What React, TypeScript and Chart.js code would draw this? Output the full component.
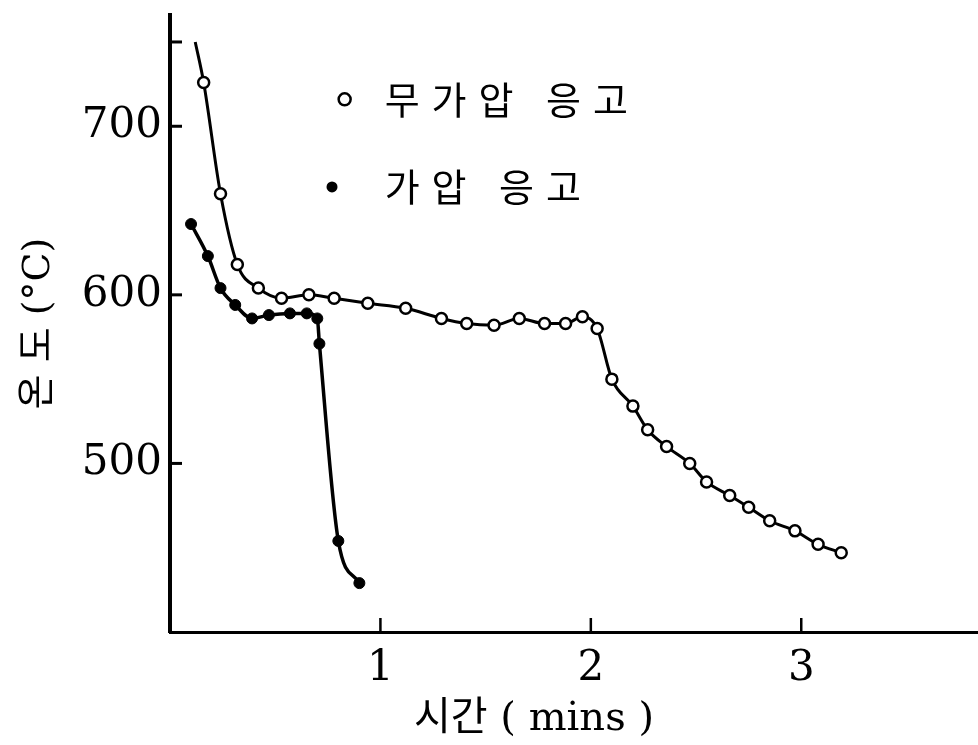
import React, { useEffect, useRef } from 'react';
import { Chart, registerables } from 'chart.js';

Chart.register(...registerables);

// ---- data ----
const seriesNames = ['무가압 응고', '가압 응고'];
const xTitle = '시간 ( mins )';
const yTitle = '온 도 (°C)';
const xTickValues = [1, 2, 3];
const xTickLabels = ['1', '2', '3'];
const yTickValues = [500, 600, 700, 750];
const yTickLabels = ['500', '600', '700', ''];

// 무가압 응고 (open circles)
const openTime = [0.12, 0.16, 0.24, 0.32, 0.42, 0.53, 0.66, 0.78, 0.94, 1.12, 1.29, 1.41, 1.54, 1.66, 1.78, 1.88, 1.96, 2.03, 2.10, 2.20, 2.27, 2.36, 2.47, 2.55, 2.66, 2.75, 2.85, 2.97, 3.08, 3.19];
const openTemp = [750, 726, 660, 618, 604, 598, 600, 598, 595, 592, 586, 583, 582, 586, 583, 583, 587, 580, 550, 534, 520, 510, 500, 489, 481, 474, 466, 460, 452, 447];

// 가압 응고 (filled dots)
const filledTime = [0.10, 0.18, 0.24, 0.31, 0.39, 0.47, 0.57, 0.65, 0.70, 0.71, 0.80, 0.90];
const filledTemp = [642, 623, 604, 594, 586, 588, 589, 589, 586, 571, 454, 429];

const AXIS_FONT = "'DejaVu Serif', 'Noto Sans CJK KR', serif";
const KR_FONT = "'Noto Sans CJK KR', sans-serif";

const inwardTicks = {
  id: 'inwardTicks',
  afterDraw(chart: any) {
    const { ctx, chartArea: ca } = chart;
    const xs = chart.scales.x;
    const ys = chart.scales.y;
    ctx.save();
    ctx.strokeStyle = '#000';
    ctx.lineWidth = 3;
    yTickValues.forEach((v) => {
      const py = ys.getPixelForValue(v);
      ctx.beginPath();
      ctx.moveTo(ca.left, py);
      ctx.lineTo(ca.left + 12, py);
      ctx.stroke();
    });
    ctx.lineWidth = 2.5;
    xTickValues.forEach((v) => {
      const px = xs.getPixelForValue(v);
      ctx.beginPath();
      ctx.moveTo(px, ca.bottom);
      ctx.lineTo(px, ca.bottom - 14);
      ctx.stroke();
    });
    ctx.restore();
  },
};

const innerLegend = {
  id: 'innerLegend',
  afterDraw(chart: any) {
    const { ctx } = chart;
    const xs = chart.scales.x;
    const ys = chart.scales.y;
    ctx.save();
    const rows = [
      { mx: 0.83, y: 716, open: true },
      { mx: 0.77, y: 664, open: false },
    ];
    rows.forEach((r, i) => {
      const px = xs.getPixelForValue(r.mx);
      const py = ys.getPixelForValue(r.y);
      ctx.beginPath();
      ctx.arc(px, py, r.open ? 6 : 5.5, 0, Math.PI * 2);
      if (r.open) {
        ctx.fillStyle = '#fff';
        ctx.fill();
        ctx.lineWidth = 2.5;
        ctx.strokeStyle = '#000';
        ctx.stroke();
      } else {
        ctx.fillStyle = '#000';
        ctx.fill();
      }
      ctx.fillStyle = '#000';
      ctx.font = `38px ${KR_FONT}`;
      (ctx as any).letterSpacing = '12px';
      ctx.textAlign = 'left';
      ctx.textBaseline = 'middle';
      ctx.fillText(seriesNames[i], xs.getPixelForValue(1.02), py);
    });
    ctx.restore();
  },
};

export default function App() {
  const canvasRef = useRef<HTMLCanvasElement | null>(null);

  useEffect(() => {
    document.body.style.margin = '0';
    const canvas = canvasRef.current;
    if (!canvas) return;
    const chart = new Chart(canvas, {
      type: 'line',
      data: {
        datasets: [
          {
            label: seriesNames[0],
            data: openTime.map((t, i) => ({ x: t, y: openTemp[i] })),
            borderColor: '#000',
            borderWidth: 3,
            backgroundColor: '#fff',
            pointBackgroundColor: '#fff',
            pointBorderColor: '#000',
            pointBorderWidth: 2.5,
            pointRadius: (c: any) => (c.dataIndex === 0 ? 0 : 5.5),
            cubicInterpolationMode: 'monotone',
            fill: false,
          },
          {
            label: seriesNames[1],
            data: filledTime.map((t, i) => ({ x: t, y: filledTemp[i] })),
            borderColor: '#000',
            borderWidth: 3.5,
            backgroundColor: '#000',
            pointBackgroundColor: '#000',
            pointBorderColor: '#000',
            pointBorderWidth: 1,
            pointRadius: 5.5,
            cubicInterpolationMode: 'monotone',
            fill: false,
          },
        ],
      },
      options: {
        responsive: false,
        animation: false,
        devicePixelRatio: 1,
        layout: { autoPadding: false, padding: { top: 15, right: 0, left: 0, bottom: 0 } },
        plugins: {
          legend: { display: false },
          tooltip: { enabled: false },
        },
        scales: {
          x: {
            type: 'linear',
            min: 0,
            max: 3.84,
            afterBuildTicks: (s: any) => {
              s.ticks = xTickValues.map((v) => ({ value: v }));
            },
            afterFit: (s: any) => {
              s.height = 113;
              s.paddingLeft = 0;
              s.paddingRight = 0;
            },
            ticks: {
              color: '#000',
              font: { family: AXIS_FONT, size: 42 },
              padding: 12,
              maxRotation: 0,
              autoSkip: false,
              callback: (v: any) => xTickLabels[xTickValues.indexOf(v)] ?? '',
            },
            grid: { display: false, drawTicks: false },
            border: { display: true, color: '#000', width: 3 },
            title: {
              display: true,
              text: xTitle + '\u2003\u2003',
              color: '#000',
              font: { family: AXIS_FONT, size: 40 },
              padding: { top: 0, bottom: 1 },
            },
          },
          y: {
            type: 'linear',
            min: 400,
            max: 766,
            afterBuildTicks: (s: any) => {
              s.ticks = yTickValues.map((v) => ({ value: v }));
            },
            afterFit: (s: any) => {
              s.width = 170;
              s.paddingTop = 0;
              s.paddingBottom = 0;
            },
            ticks: {
              color: '#000',
              font: { family: AXIS_FONT, size: 42 },
              padding: 8,
              autoSkip: false,
              callback: (v: any) => yTickLabels[yTickValues.indexOf(v)] ?? '',
            },
            grid: { display: false, drawTicks: false },
            border: { display: true, color: '#000', width: 4 },
            title: {
              display: true,
              text: yTitle,
              color: '#000',
              font: { family: AXIS_FONT, size: 38 },
              padding: { top: 16, bottom: 0 },
            },
          },
        },
      },
      plugins: [inwardTicks, innerLegend],
    } as any);
    return () => chart.destroy();
  }, []);

  return (
    <div style={{ width: 978, height: 745, background: '#fff' }}>
      <canvas ref={canvasRef} width={978} height={745} style={{ display: 'block' }} />
    </div>
  );
}
